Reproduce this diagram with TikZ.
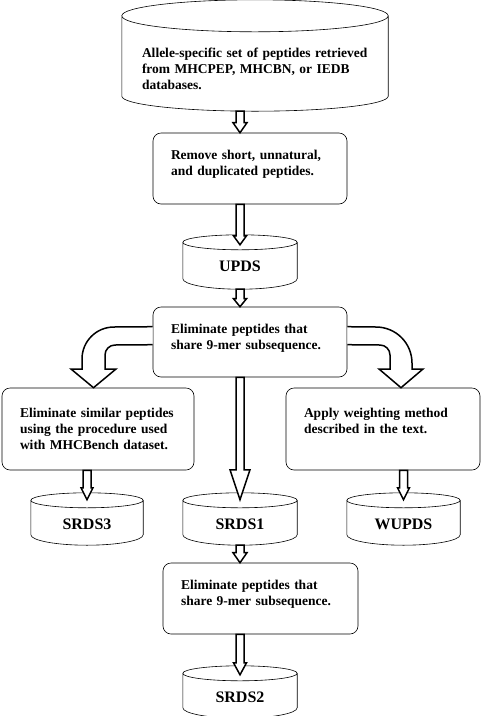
\documentclass[tikz,border=0pt]{standalone}
\usepackage{fontspec}
\setmainfont{Liberation Serif}
\usetikzlibrary{calc}

\tikzset{
  proc/.style={draw, line width=0.6pt, rounded corners=8pt, align=left,
    inner xsep=18pt, inner ysep=0pt, text height=26pt,
    font=\fontsize{13.5}{16}\selectfont\bfseries},
  db/.style={inner sep=0pt, minimum width=114pt, minimum height=52pt,
    text height=36pt, text depth=16pt, font=\fontsize{16}{19}\selectfont\bfseries},
  dbline/.style={draw, line width=0.6pt},
  blockarr/.style={draw, fill=white, line width=1.5pt, line join=miter},
}

% cylinder outline round a node: node, top radius, bottom radius
\newcommand{\dbshape}[3]{%
  \draw[dbline] let \p1=(#1.north west), \p2=(#1.south east), \n1={(\x2-\x1)/2} in
    (\x1,\y1-#2) -- (\x1,\y2+#3)
    arc[start angle=180, end angle=360, x radius=\n1, y radius=#3]
    -- (\x2,\y1-#2)
    (\x1+\n1,\y1-#2) ellipse[x radius=\n1, y radius=#2];}

% hollow block arrow pointing down: from, to, head half width, head length
\newcommand{\hollowarrow}[4]{%
  \draw[blockarr] let \p1=(#1), \p2=(#2) in
    (\x2-4pt,\y1) -- (\x2-4pt,\y2+#4) -- (\x2-#3,\y2+#4) -- (\x2,\y2)
    -- (\x2+#3,\y2+#4) -- (\x2+4pt,\y2+#4) -- (\x2+4pt,\y1) -- cycle;}

\begin{document}
\begin{tikzpicture}[x=1pt, y=-1pt]
  \useasboundingbox (0,0) rectangle (481,716);

  % data sets
  \node[db, minimum width=266pt, minimum height=111pt, text width=226pt, align=left,
    text height=57pt, text depth=54pt, font=\fontsize{13.5}{16}\selectfont\bfseries]
    (src) at (255,55.5) {Allele-specific set of peptides retrieved\\from MHCPEP, MHCBN, or IEDB\\databases.};
  \node[db, minimum height=54pt, text depth=18pt] (upds) at (240,262) {UPDS};
  \node[db, minimum width=112pt] (srds3) at (87,519) {SRDS3};
  \node[db] (srds1) at (240,519) {SRDS1};
  \node[db, minimum width=113pt] (wupds) at (403.5,519) {WUPDS};
  \node[db] (srds2) at (240,692) {SRDS2};
  \dbshape{src}{16pt}{15pt}
  \foreach \d in {upds, srds3, srds1, wupds, srds2}
    \dbshape{\d}{7.5pt}{10.5pt};

  % processing steps
  \node[proc, minimum width=194pt, text width=158pt, text depth=45pt] (rem) at (250,168.5)
    {Remove short, unnatural,\\and duplicated peptides.};
  \node[proc, minimum width=194pt, text width=158pt, text depth=44pt] (elim1) at (250,342)
    {Eliminate peptides that\\share 9-mer subsequence.};
  \node[proc, minimum width=192pt, text width=156pt, text height=29pt, text depth=53pt] (simil) at (98,429)
    {Eliminate similar peptides\\using the procedure used\\with MHCBench dataset.};
  \node[proc, minimum width=194pt, text width=158pt, text height=29pt, text depth=53pt] (weight) at (383,429)
    {Apply weighting method\\described in the text.};
  \node[proc, minimum width=195pt, text width=159pt, text depth=45pt] (elim2) at (260.5,598.5)
    {Eliminate peptides that\\share 9-mer subsequence.};

  % straight arrows
  \hollowarrow{src.south}{rem.north -| upds.north}{7pt}{10pt}
  \hollowarrow{rem.south}{$(upds.north)+(0,10)$}{6.5pt}{9pt}
  \hollowarrow{upds.south}{elim1.north -| upds.north}{6.5pt}{8pt}
  \hollowarrow{elim1.south}{$(srds1.north)+(0,7)$}{10pt}{30pt}
  \hollowarrow{simil.south}{$(srds3.north)+(0,7)$}{6pt}{12pt}
  \hollowarrow{weight.south}{$(wupds.north)+(0,7)$}{6pt}{12pt}
  \hollowarrow{srds1.south}{elim2.north -| srds1.north}{7pt}{10pt}
  \hollowarrow{elim2.south}{$(srds2.north)+(0,9)$}{6.5pt}{12pt}

  % bent arrows
  \draw[blockarr] ([yshift=-20pt]elim1.north west) -- (114,327)
    .. controls (96.3,327) and (82,341.3) .. (82,359) -- (82,369) -- (71,369)
    -- (simil.north -| 93.5,0) -- (116,369) -- (105,369) -- (105,355)
    .. controls (105,349.5) and (109.5,345) .. (115,345) -- ([yshift=-38pt]elim1.north west);
  \draw[blockarr] ([yshift=-20pt]elim1.north east) -- (376,327)
    .. controls (395.9,327) and (412,343.1) .. (412,363) -- (412,369) -- (423,369)
    -- (weight.north -| 401,0) -- (379,369) -- (390,369) -- (390,355)
    .. controls (390,349.5) and (385.5,345) .. (380,345) -- ([yshift=-38pt]elim1.north east);
\end{tikzpicture}
\end{document}
